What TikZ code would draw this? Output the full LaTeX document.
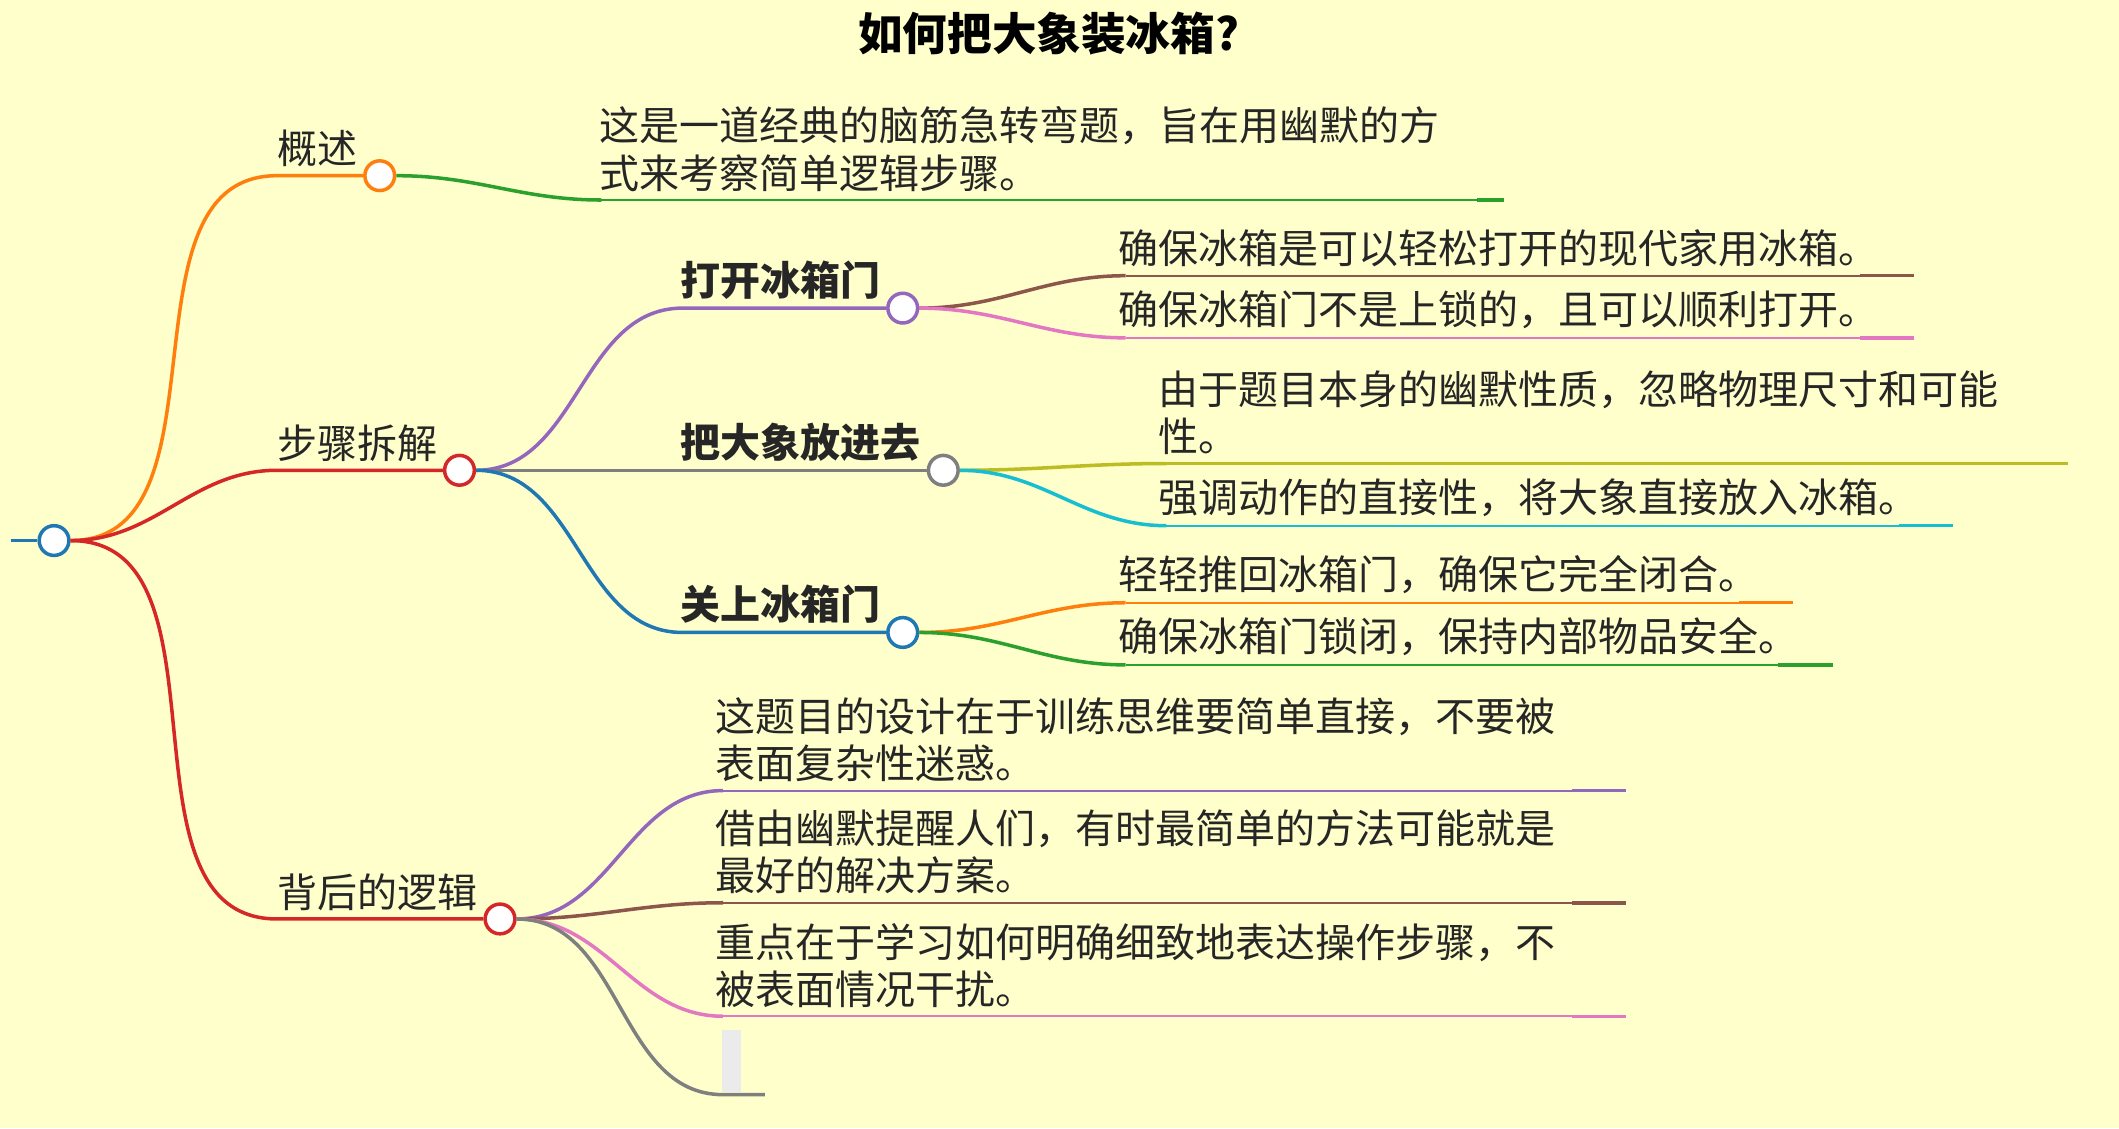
\documentclass[tikz,border=0pt]{standalone}
\usepackage{fontspec}
\setmainfont{Noto Sans CJK SC}
\definecolor{bg}{HTML}{FFFFCC}
\definecolor{cor}{HTML}{FF7F0E}
\definecolor{cre}{HTML}{D62728}
\definecolor{cpu}{HTML}{9467BD}
\definecolor{cgr}{HTML}{7F7F7F}
\definecolor{cbl}{HTML}{1F77B4}
\definecolor{cgn}{HTML}{2CA02C}
\definecolor{cbr}{HTML}{8C564B}
\definecolor{cpk}{HTML}{E377C2}
\definecolor{col}{HTML}{BCBD22}
\definecolor{ccy}{HTML}{17BECF}
\begin{document}
\begin{tikzpicture}[x=0.5pt,y=-0.5pt,
  dot/.style={circle,draw=#1,fill=white,line width=1.3pt,minimum size=11pt,inner sep=0pt},
  br/.style={line width=1.3pt,draw=#1},
  lbl/.style={anchor=south west,inner sep=1pt,font=\fontsize{14.8}{17.5}\selectfont,align=left,text=black!85},
  blbl/.style={lbl,font=\fontsize{14.8}{17.5}\selectfont\bfseries}]
\fill[bg] (0,0) rectangle (1568,835);
\useasboundingbox (0,0) rectangle (1568,835);
\node[font=\fontsize{16.5}{18}\selectfont\bfseries] (title) at (776,25) {如何把大象装冰箱?};
% root
\coordinate (r0) at (8,400);
\node[dot=cbl] (root) at (40,400) {};
\draw[br=cbl] (r0) -- (root);
% level 1
\coordinate (a1) at (205,130); \node[dot=cor] (ac) at (281,130) {};
\coordinate (b1) at (205,348); \node[dot=cre] (bc) at (340,348) {};
\coordinate (c1) at (205,680); \node[dot=cre] (cc) at (370,680) {};
\draw[br=cor] (root) to[out=0,in=180] (a1) -- (ac);
\draw[br=cre] (root) to[out=0,in=180] (b1) -- (bc);
\draw[br=cre] (root) to[out=0,in=180] (c1) -- (cc);
\node[lbl] (at) at (203,126) {概述};
\node[lbl] (bt) at (203,344) {步骤拆解};
\node[lbl] (ct) at (203,676) {背后的逻辑};
% overview
\coordinate (a2) at (445,148); \coordinate (a2e) at (1113,148);
\draw[br=cgn] (ac) to[out=0,in=180] (a2); \draw[cgn,line width=0.8pt] (a2) -- (a2e);
\draw[br=cgn] (1093,148) -- (a2e);
\node[lbl] (a2t) at (441,144) {这是一道经典的脑筋急转弯题，旨在用幽默的方\\式来考察简单逻辑步骤。};
% steps
\coordinate (s1) at (505,228); \node[dot=cpu] (s1c) at (668,228) {};
\coordinate (s2) at (505,348); \node[dot=cgr] (s2c) at (698,348) {};
\coordinate (s3) at (505,468); \node[dot=cbl] (s3c) at (668,468) {};
\draw[br=cpu] (bc) to[out=0,in=180] (s1) -- (s1c);
\draw[br=cgr] (bc) -- (s2) -- (s2c);
\draw[br=cbl] (bc) to[out=0,in=180] (s3) -- (s3c);
\node[blbl] (s1t) at (501,224) {打开冰箱门};
\node[blbl] (s2t) at (501,344) {把大象放进去};
\node[blbl] (s3t) at (501,464) {关上冰箱门};
% leaves
\foreach \n/\pp/\cc/\xx/\yy/\ee/\txt in {
 l1/s1c/cbr/833/204/1416/{确保冰箱是可以轻松打开的现代家用冰箱。},
 l2/s1c/cpk/833/250/1416/{确保冰箱门不是上锁的，且可以顺利打开。},
 l3/s2c/col/863/343/1530/{由于题目本身的幽默性质，忽略物理尺寸和可能\\性。},
 l4/s2c/ccy/863/389/1445/{强调动作的直接性，将大象直接放入冰箱。},
 l5/s3c/cor/833/446/1327/{轻轻推回冰箱门，确保它完全闭合。},
 l6/s3c/cgn/833/492/1356/{确保冰箱门锁闭，保持内部物品安全。},
 l7/cc/cpu/535/585/1203/{这题目的设计在于训练思维要简单直接，不要被\\表面复杂性迷惑。},
 l8/cc/cbr/535/668/1203/{借由幽默提醒人们，有时最简单的方法可能就是\\最好的解决方案。},
 l9/cc/cpk/535/752/1203/{重点在于学习如何明确细致地表达操作步骤，不\\被表面情况干扰。}}{
 \coordinate (\n) at (\xx,\yy); \coordinate (\n e) at (\ee,\yy);
 \draw[br=\cc] (\pp) to[out=0,in=180] (\n);
 \draw[\cc,line width=0.8pt] (\n) -- (\n e);
 \draw[br=\cc] ([xshift=-20]\n e) -- (\n e);
 \node[lbl] (\n t) at ([xshift=-4,yshift=2]\n) {\txt};
}
\coordinate (l10) at (535,810); \coordinate (l10e) at (566,810);
\draw[br=cgr] (cc) to[out=0,in=180] (l10) -- (l10e);
\fill[black!8] (534,762) rectangle (548,808);
\end{tikzpicture}
\end{document}
